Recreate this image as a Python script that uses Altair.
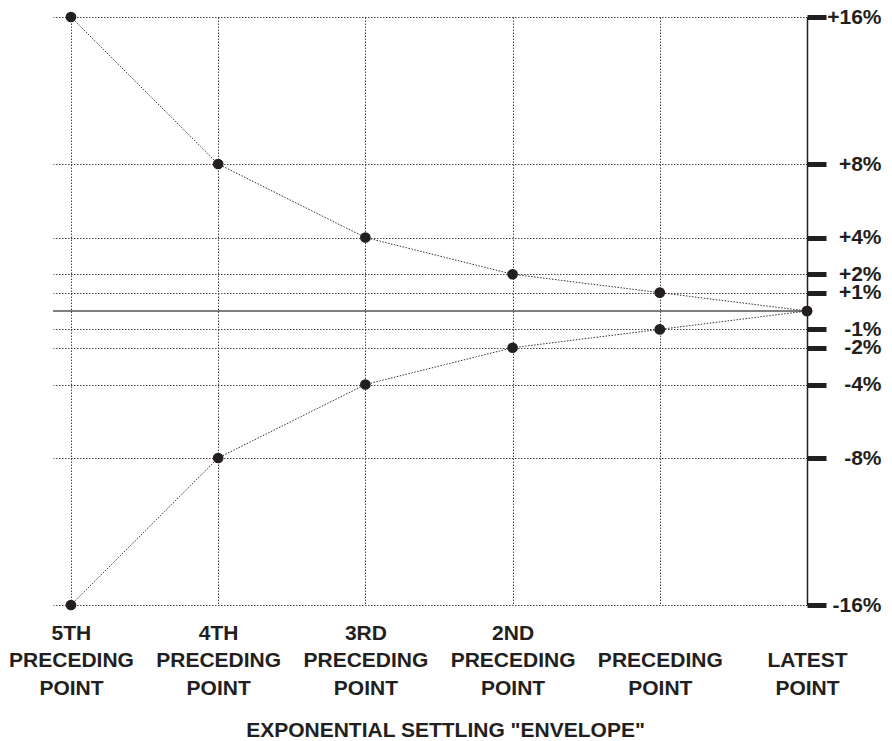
import altair as alt
import pandas as pd
import json

# ---- data ----
positions = [0, 1, 2, 3, 4, 5]
x_labels = [
    ["5TH", "PRECEDING", "POINT"],
    ["4TH", "PRECEDING", "POINT"],
    ["3RD", "PRECEDING", "POINT"],
    ["2ND", "PRECEDING", "POINT"],
    ["", "PRECEDING", "POINT"],
    ["", "LATEST", "POINT"],
]
upper = [16, 8, 4, 2, 1, 0]
lower = [-16, -8, -4, -2, -1, 0]
y_ticks = [16, 8, 4, 2, 1, -1, -2, -4, -8, -16]
x_title = 'EXPONENTIAL SETTLING "ENVELOPE"'

rows = []
for p, u in zip(positions, upper):
    rows.append({"pos": p, "val": u, "series": "upper"})
for p, l in zip(positions, lower):
    rows.append({"pos": p, "val": l, "series": "lower"})
df = pd.DataFrame(rows)

FONT = "Liberation Sans"
INK = "#231f20"

label_expr = json.dumps(x_labels).replace('"', "'") + "[datum.value]"

x_enc = alt.X(
    "pos:Q",
    scale=alt.Scale(domain=[-0.122, 5], nice=False, zero=False),
    axis=alt.Axis(
        values=positions,
        labelExpr=label_expr,
        title=x_title,
        domain=False,
        ticks=False,
        grid=True,
        gridColor="#444444",
        gridDash=[1.5, 1.5],
        gridWidth=1,
        labelFont=FONT,
        labelFontSize=21,
        labelFontWeight="bold",
        labelColor=INK,
        labelLineHeight=27.5,
        labelPadding=17,
        labelOverlap=False,
        labelFlush=False,
        labelBound=False,
        labelBaseline="top",
        titleFont=FONT,
        titleFontSize=21,
        titleFontWeight="bold",
        titleColor=INK,
        titleX=392,
        titleY=131,
        titleAlign="center",
        titleBaseline="alphabetic",
    ),
)

y_enc = alt.Y(
    "val:Q",
    scale=alt.Scale(domain=[-16, 16], nice=False, zero=False),
    axis=alt.Axis(
        orient="right",
        values=y_ticks,
        labelExpr="(datum.value > 0 ? '+' : '') + datum.value + '%'",
        title=None,
        domain=True,
        domainColor=INK,
        domainWidth=1.5,
        ticks=True,
        tickSize=19,
        tickWidth=5,
        tickColor=INK,
        grid=True,
        gridColor="#444444",
        gridDash=[1.5, 1.5],
        gridWidth=1,
        labelFont=FONT,
        labelFontSize=21,
        labelFontWeight="bold",
        labelColor=INK,
        labelAlign="right",
        labelPadding=55,
        labelOverlap=False,
        labelFlush=False,
        labelBound=False,
        labelBaseline="middle",
    ),
)

base = alt.Chart(df)

lines = base.mark_line(
    color="#333333", strokeWidth=1, strokeDash=[1.5, 1.5]
).encode(x=x_enc, y=y_enc, detail="series:N")

zero_rule = alt.Chart(pd.DataFrame({"z": [0]})).mark_rule(
    color="#000000", strokeWidth=1.2
).encode(y="z:Q")

points = base.mark_circle(size=115, color=INK, opacity=1).encode(
    x="pos:Q", y="val:Q"
)

chart = (
    alt.layer(zero_rule, lines, points)
    .properties(
        width=754,
        height=588,
        autosize=alt.AutoSizeParams(type="none"),
        padding={"left": 45, "top": 9, "right": 76, "bottom": 134},
    )
    .configure_view(stroke=None)
)

chart.save("out.html", embed_options={"renderer": "svg", "actions": False})
